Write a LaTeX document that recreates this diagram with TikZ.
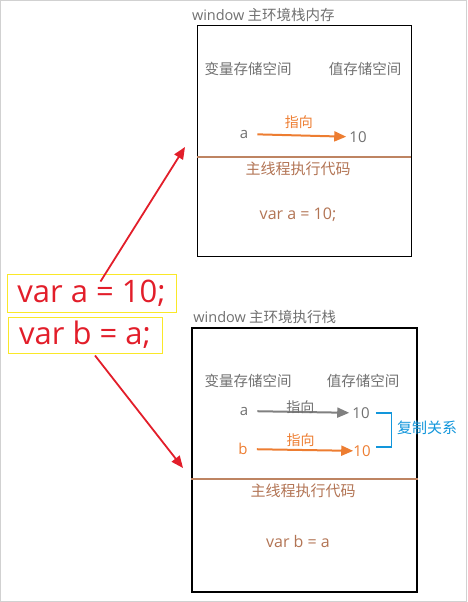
\documentclass[tikz,border=0pt]{standalone}
\usepackage{fontspec}
\setmainfont{Noto Sans CJK SC}
\newfontfamily\lat{Open Sans}
\usepackage{xcolor}
\usepackage{tikz}
\usetikzlibrary{arrows.meta, positioning, calc}
\definecolor{txtgray}{RGB}{112,112,112}
\definecolor{ptrorange}{RGB}{237,125,49}
\definecolor{codebrown}{RGB}{178,116,84}
\definecolor{linebrown}{RGB}{190,132,98}
\definecolor{copyblue}{RGB}{18,150,219}
\definecolor{jsred}{RGB}{226,30,42}
\definecolor{boxyellow}{RGB}{250,232,40}
\tikzstyle{stack} = [rectangle, draw=black, inner sep=0]
\tikzstyle{stacktitle} = [anchor=south west, inner sep=0, text=txtgray, font=\fontsize{14.5}{16}\selectfont]
\tikzstyle{spacetext} = [inner sep=0, text=txtgray, font=\fontsize{14.5}{16}\selectfont]
\tikzstyle{codetext} = [inner sep=0, text=codebrown, font=\fontsize{15}{16}\selectfont]
\tikzstyle{jscode} = [rectangle, draw=boxyellow, line width=1pt, text=jsred, font=\lat\fontsize{31}{34}\selectfont, inner sep=0]
\tikzstyle{divider} = [draw=linebrown, line width=1.4pt]
\tikzstyle{ptr} = [line width=2pt, -{Triangle[length=12pt, width=10pt]}, shorten <=9pt, shorten >=3pt]
\tikzstyle{redarrow} = [draw=jsred, line width=1.8pt, -{Triangle[length=12pt, width=10pt]}]

\begin{document}
\begin{tikzpicture}[x=1pt, y=-1pt]
    \useasboundingbox (0,0) rectangle (467,602);
    \draw[black!18] (0.5,0.5) rectangle (466.5,601.5);

    % window memory stack
    \node[stack, minimum width=214pt, minimum height=231pt] (memTop) at (304,140.5) {};
    \node[stacktitle] (memTitle) at ([xshift=-5pt, yshift=3pt]memTop.north west) {{\lat window} 主环境栈内存};
    \node[spacetext] (varSpaceTop) at (248,69) {变量存储空间};
    \node[spacetext] (valSpaceTop) at (365,69) {值存储空间};
    \node[spacetext, font=\lat\fontsize{15}{16}\selectfont] (aTop) at (244,134) {a};
    \node[spacetext, font=\lat\fontsize{15}{16}\selectfont] (tenTop) at (358,137) {10};
    \draw[ptr, ptrorange] (aTop) -- (tenTop)
        node[midway, above=6pt, inner sep=0, font=\fontsize{14}{16}\selectfont] (ptrTop) {指向};
    \draw[divider] (memTop.west |- 0,157) -- (memTop.east |- 0,157);
    \node[codetext] (threadTop) at (298,169) {主线程执行代码};
    \node[codetext, font=\lat\fontsize{16}{18}\selectfont] (codeTop) at (298,215) {var a = 10;};

    % window execution stack
    \node[stack, line width=1.6pt, minimum width=225pt, minimum height=264pt] (execBot) at (304.5,460) {};
    \node[stacktitle] (execTitle) at ([xshift=2pt, yshift=3pt]execBot.north west) {{\lat window} 主环境执行栈};
    \node[spacetext] (varSpaceBot) at (248,381) {变量存储空间};
    \node[spacetext] (valSpaceBot) at (363,381) {值存储空间};
    \node[spacetext, font=\lat\fontsize{15}{16}\selectfont] (aBot) at (244,411) {a};
    \node[spacetext, font=\lat\fontsize{15}{16}\selectfont] (tenBotA) at (361,413) {10};
    \node[spacetext, text=ptrorange, font=\lat\fontsize{15}{16}\selectfont] (bBot) at (243,449) {b};
    \node[spacetext, text=ptrorange, font=\lat\fontsize{15}{16}\selectfont] (tenBotB) at (362,451) {10};
    \draw[ptr, gray] (aBot) -- (tenBotA)
        node[midway, above=-3pt, inner sep=0, text=txtgray, font=\fontsize{14}{16}\selectfont] (ptrBotA) {指向};
    \draw[ptr, ptrorange, shorten >=0pt] (bBot) -- (tenBotB)
        node[midway, above=2pt, inner sep=0, font=\fontsize{14}{16}\selectfont] (ptrBotB) {指向};
    \draw[copyblue, line width=1.4pt] ([xshift=6pt]tenBotA.east) -- ++(16,0) |- ([xshift=5pt]tenBotB.east |- 0,447);
    \node[spacetext, text=copyblue, font=\fontsize{15}{16}\selectfont] (copyRel) at (427,428) {复制关系};
    \draw[divider] (execBot.west |- 0,479) -- (execBot.east |- 0,479);
    \node[codetext] (threadBot) at (303,491) {主线程执行代码};
    \node[codetext, font=\lat\fontsize{16}{18}\selectfont] (codeBot) at (298,541) {var b = a};

    % source lines
    \node[jscode, minimum width=169pt, minimum height=38pt] (varA) at (91.5,293) {var a = 10;};
    \node[jscode, minimum width=154pt, minimum height=36pt] (varB) at (85,335) {var b = a;};
    \coordinate (tipTop) at (185,147);
    \coordinate (tipBot) at (183,468);
    \draw[redarrow] ([xshift=9pt, yshift=-8pt]varA.north) -- (tipTop);
    \draw[redarrow] ([xshift=10pt, yshift=-2pt]varB.south) -- (tipBot);
\end{tikzpicture}
\end{document}
